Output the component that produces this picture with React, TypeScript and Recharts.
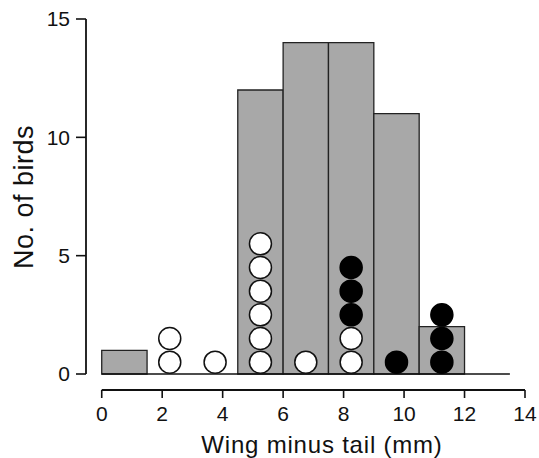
import React from "react";
import {
  ComposedChart,
  XAxis,
  YAxis,
  Scatter,
  ReferenceArea,
  ReferenceLine,
  Label,
} from "recharts";

// Histogram bins (mm) and bar counts
const binStarts = [0, 1.5, 3, 4.5, 6, 7.5, 9, 10.5];
const binWidth = 1.5;
const histCounts = [1, 0, 0, 12, 14, 14, 11, 2];
// Circles stacked per bin: open (white) and filled (black)
const openCounts = [0, 2, 1, 6, 1, 2, 0, 0];
const filledCounts = [0, 0, 0, 0, 0, 3, 1, 3];

const xTicks = [0, 2, 4, 6, 8, 10, 12, 14];
const yTicks = [0, 5, 10, 15];
const xDomain: [number, number] = [-0.52, 14];
const yDomain: [number, number] = [-0.676, 15];
const baselineEnd = 13.5;

const binCenters = binStarts.map((s) => s + binWidth / 2);
const openPoints = binCenters.flatMap((c, i) =>
  Array.from({ length: openCounts[i] }, (_, k) => ({ x: c, y: k + 0.5 }))
);
const filledPoints = binCenters.flatMap((c, i) =>
  Array.from({ length: filledCounts[i] }, (_, k) => ({
    x: c,
    y: openCounts[i] + k + 0.5,
  }))
);

const FONT = "'Liberation Sans', Arial, Helvetica, sans-serif";
const INK = "#111";

const OpenDot = (p: any) => (
  <circle cx={p.cx} cy={p.cy} r={11} fill="#fff" stroke={INK} strokeWidth={1.5} />
);
const FilledDot = (p: any) => (
  <circle cx={p.cx} cy={p.cy} r={11} fill="#000" stroke="#000" strokeWidth={1.5} />
);

export default function App() {
  return (
    <div style={{ position: "fixed", left: 0, top: 0, width: 539, height: 458, background: "#fff" }}>
      <ComposedChart
        width={539}
        height={458}
        margin={{ top: 19, right: 14, bottom: 28, left: 26 }}
        style={{ fontFamily: FONT }}
      >
        <XAxis
          type="number"
          dataKey="x"
          domain={xDomain}
          allowDataOverflow
          ticks={xTicks}
          interval={0}
          axisLine={false}
          tickLine={{ stroke: INK, strokeWidth: 1.6 }}
          tickSize={8}
          tickMargin={8}
          height={40}
          tick={{ fill: INK, fontSize: 21, fontFamily: FONT }}
        >
          <Label
            content={() => (
              <text
                x={322}
                y={453}
                textAnchor="middle"
                fontSize={24}
                letterSpacing={0.8}
                fill={INK}
                fontFamily={FONT}
              >
                Wing minus tail (mm)
              </text>
            )}
          />
        </XAxis>
        <YAxis
          type="number"
          dataKey="y"
          domain={yDomain}
          allowDataOverflow
          ticks={yTicks}
          interval={0}
          axisLine={false}
          tickLine={{ stroke: INK, strokeWidth: 1.6 }}
          tickSize={10}
          tickMargin={6}
          width={60}
          tick={{ fill: INK, fontSize: 21, fontFamily: FONT }}
        >
          <Label
            content={() => (
              <text
                x={33}
                y={197}
                transform="rotate(-90, 33, 197)"
                textAnchor="middle"
                fontSize={27}
                letterSpacing={0.5}
                fill={INK}
                fontFamily={FONT}
              >
                No. of birds
              </text>
            )}
          />
        </YAxis>

        {binStarts.map((s, i) =>
          histCounts[i] > 0 ? (
            <ReferenceArea
              key={"bar" + i}
              x1={s}
              x2={s + binWidth}
              y1={0}
              y2={histCounts[i]}
              fill="#a8a8a8"
              fillOpacity={1}
              stroke="#222"
              strokeWidth={1.3}
            />
          ) : null
        )}

        <ReferenceLine
          segment={[
            { x: 0, y: 0 },
            { x: baselineEnd, y: 0 },
          ]}
          stroke={INK}
          strokeWidth={1.6}
        />
        <ReferenceLine
          segment={[
            { x: xDomain[0], y: 0 },
            { x: xDomain[0], y: 15 },
          ]}
          stroke={INK}
          strokeWidth={1.8}
        />
        <ReferenceLine
          segment={[
            { x: 0, y: yDomain[0] },
            { x: 14, y: yDomain[0] },
          ]}
          stroke={INK}
          strokeWidth={1.8}
        />

        <Scatter data={openPoints} shape={OpenDot} isAnimationActive={false} />
        <Scatter data={filledPoints} shape={FilledDot} isAnimationActive={false} />
      </ComposedChart>
    </div>
  );
}
